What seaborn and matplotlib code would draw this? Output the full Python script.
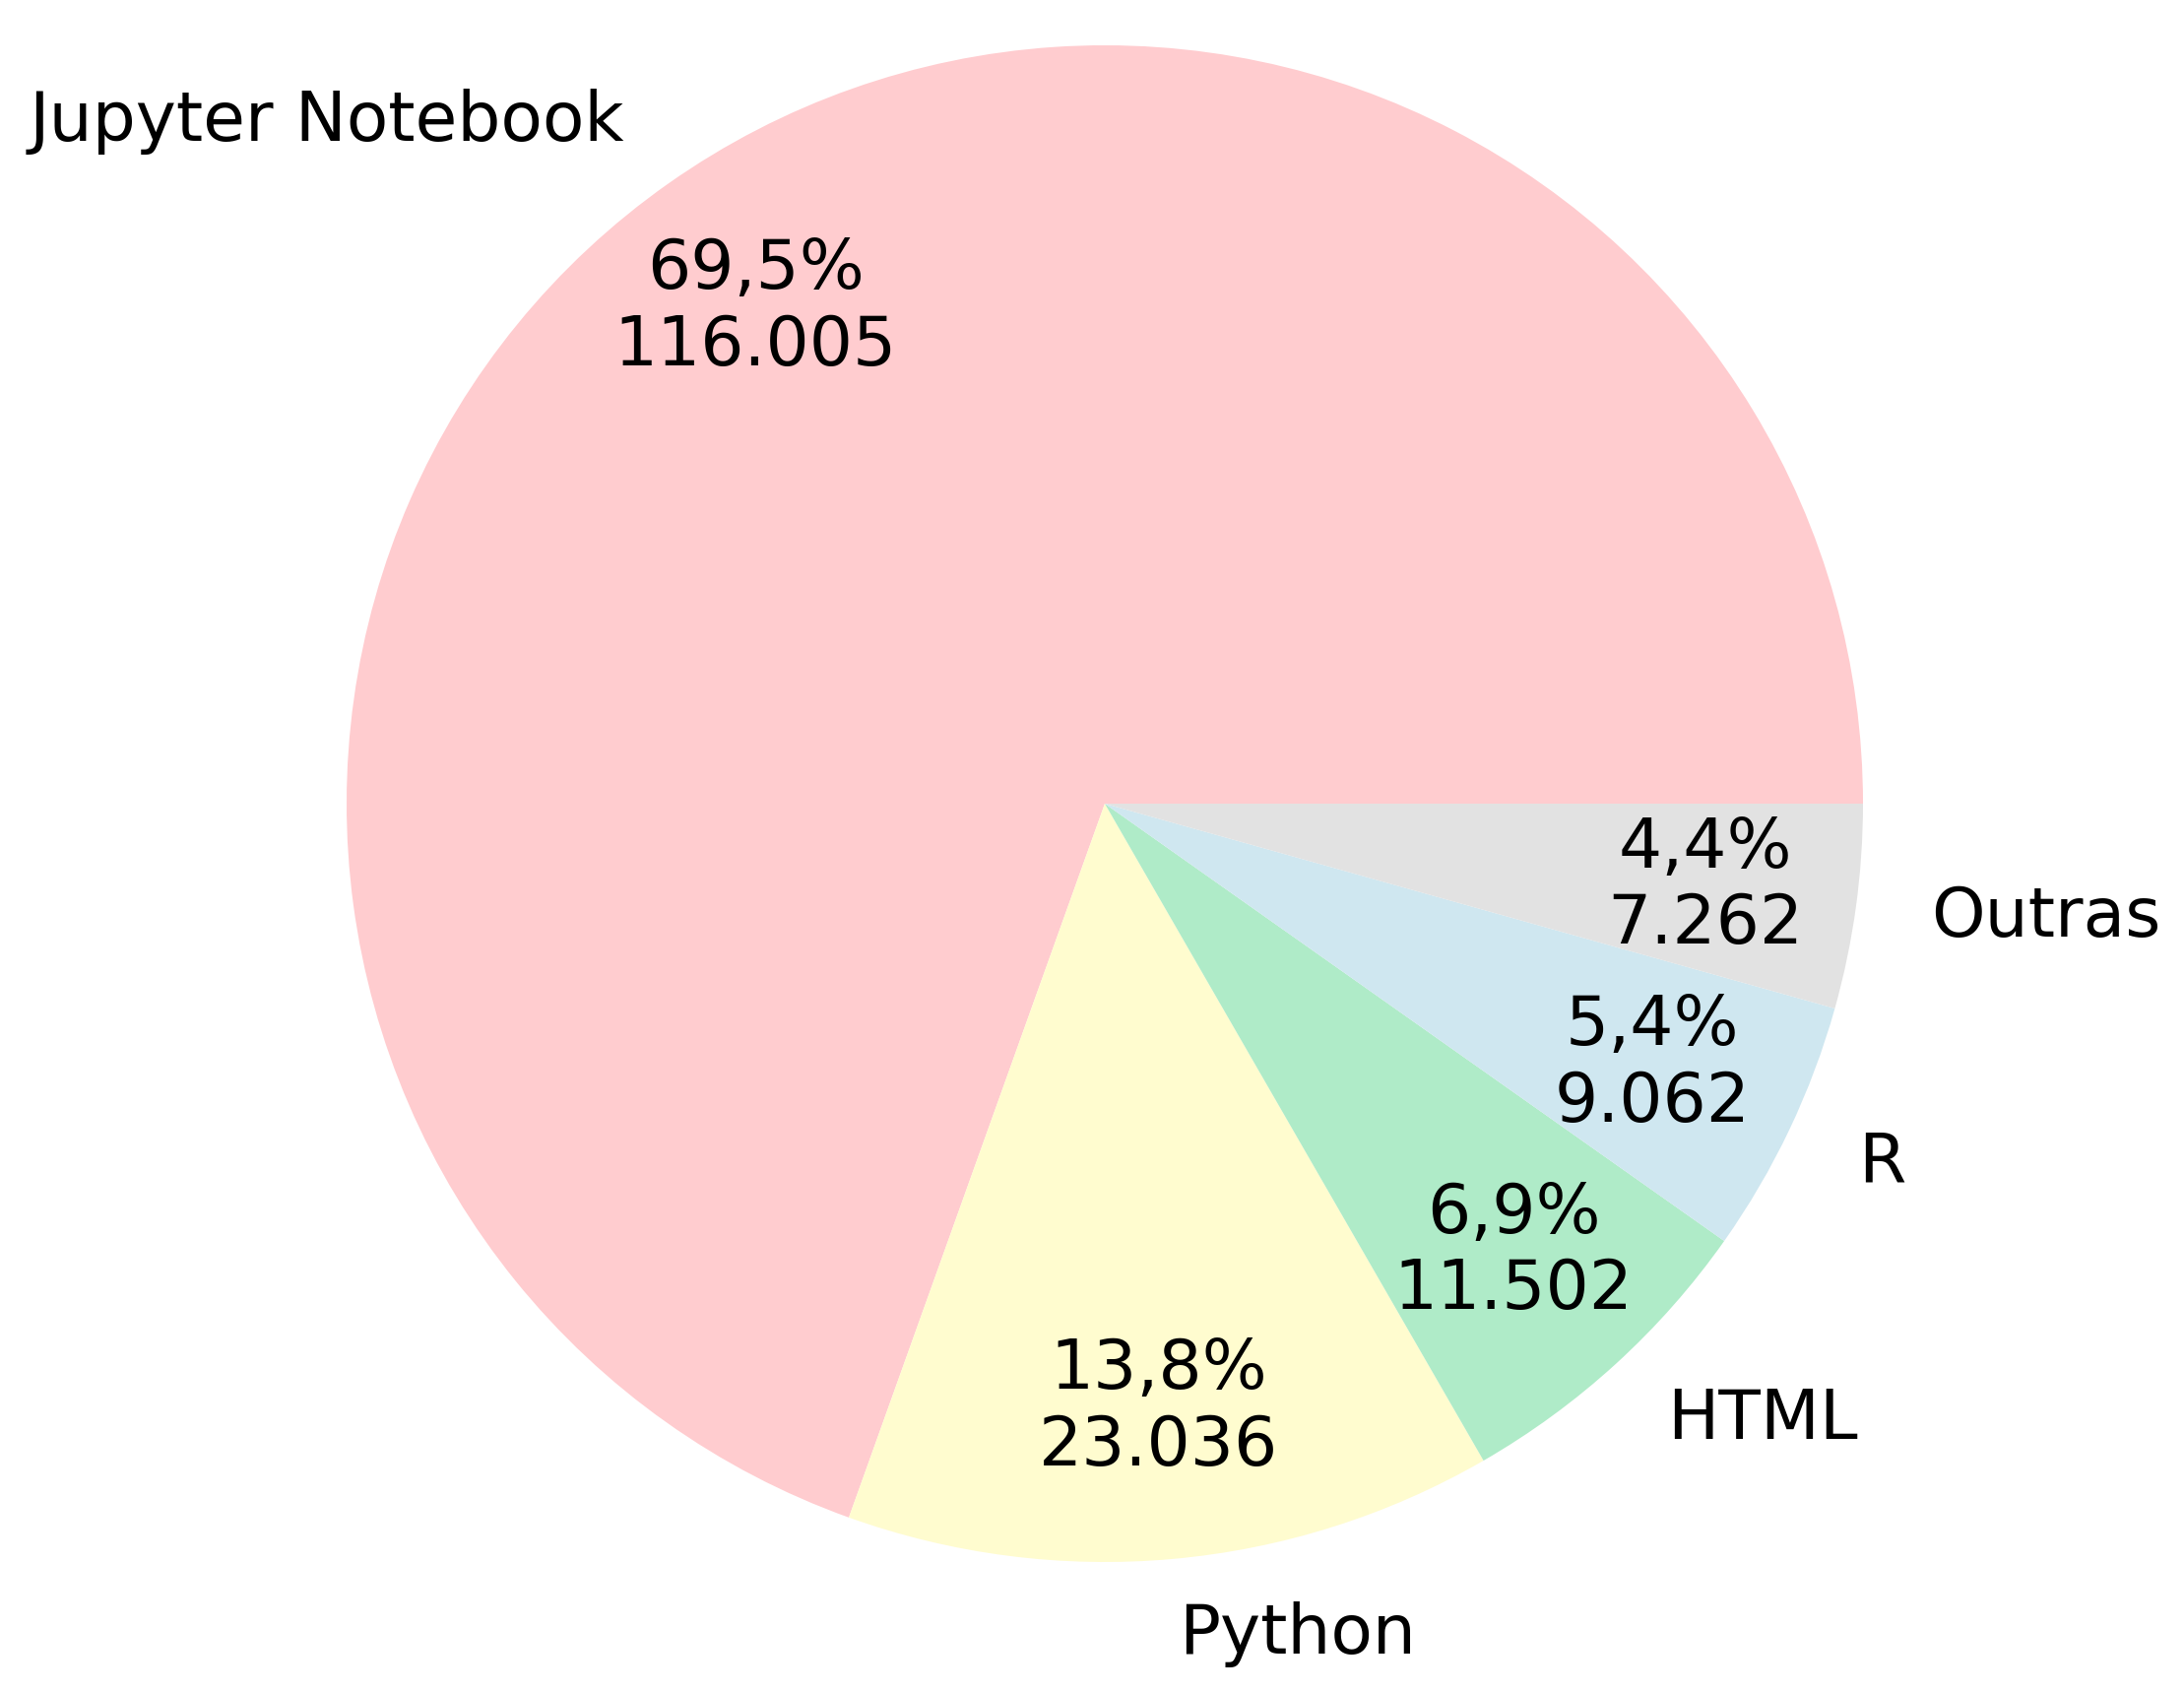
import matplotlib.pyplot as plt
import seaborn as sns

linguagens = ["Jupyter Notebook", "Python", "HTML", "R", "Outras"]
bytes_por_linguagem = [116005, 23036, 11502, 9062, 7262]
cores = ["#FFCCCF", "#FFFCCF", "#AFEBC8", "#CFE7F0", "#E2E2E2"]

total = sum(bytes_por_linguagem)


def rotulo(pct):
    valor = int(round(pct * total / 100))
    pct_txt = f"{pct:.1f}".replace(".", ",")
    valor_txt = f"{valor:,}".replace(",", ".")
    return f"{pct_txt}%\n{valor_txt}"


sns.set_theme(style="white")
plt.rcParams["font.family"] = ["DejaVu Sans"]

fig = plt.figure(figsize=(11.09, 8.59), dpi=200)
ax = fig.add_axes([0, 0, 1, 1])
ax.pie(
    bytes_por_linguagem,
    labels=linguagens,
    colors=sns.color_palette(cores),
    autopct=rotulo,
    pctdistance=0.8,
    labeldistance=1.1,
    textprops={"fontsize": 25, "color": "black"},
    wedgeprops={"linewidth": 0},
)
ax.set_aspect("equal")
ax.set_xlim(-1122 / 770, (2218 - 1122) / 770)
ax.set_ylim(-902 / 770, (1718 - 902) / 770)
ax.axis("off")

plt.savefig("out.png", dpi=200)
plt.close()
